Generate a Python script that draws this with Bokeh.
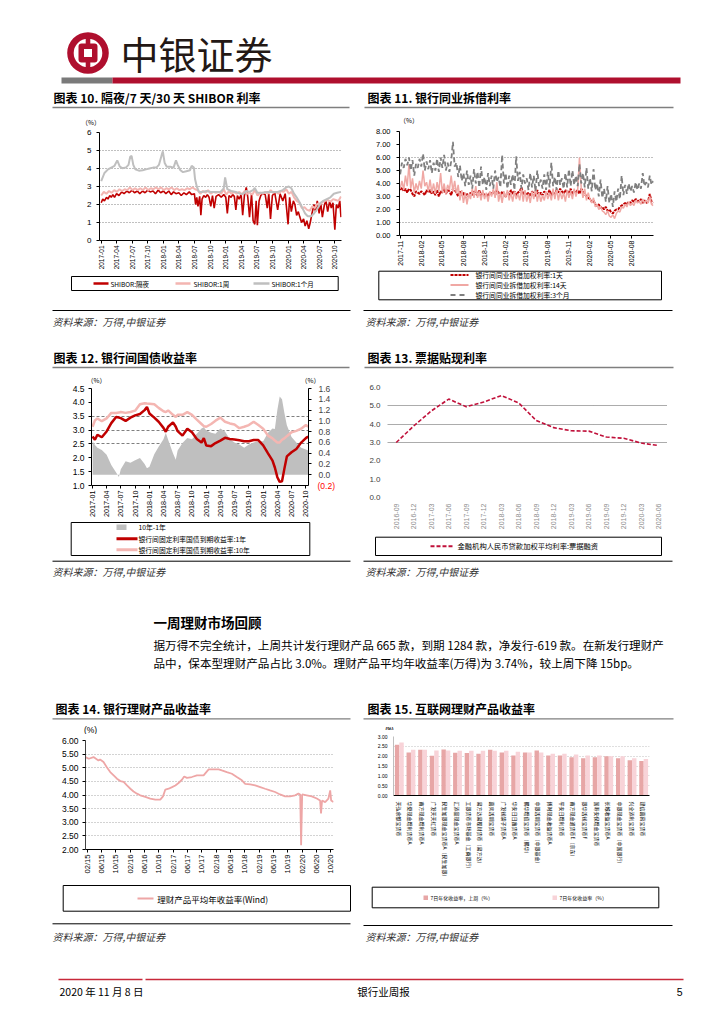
import pandas as pd
from math import pi
from bokeh.plotting import figure
from bokeh.layouts import column, row
from bokeh.models import Range1d, FixedTicker, NumeralTickFormatter, FactorRange, LinearAxis, ColumnDataSource, Spacer
from bokeh.transform import dodge
from bokeh.core.properties import value
from bokeh.embed import file_html
from bokeh.resources import INLINE

CJK = "Noto Sans CJK SC"
LAT = "Liberation Sans"

# ====================== DATA ======================
# Chart 10: SHIBOR overnight / 1W / 1M
c10_ticks = ["2017-01", "2017-04", "2017-07", "2017-10", "2018-01", "2018-04", "2018-07", "2018-10",
             "2019-01", "2019-04", "2019-07", "2019-10", "2020-01", "2020-04", "2020-07", "2020-10"]
c10_yticks = [0, 1, 2, 3, 4, 5, 6]
c10_on = [("2017-01-01", 2.10), ("2017-01-10", 2.30), ("2017-01-20", 2.20), ("2017-02-01", 2.40), ("2017-02-10", 2.30),
          ("2017-02-20", 2.50), ("2017-03-01", 2.40), ("2017-03-10", 2.55), ("2017-03-20", 2.40), ("2017-04-01", 2.60),
          ("2017-04-15", 2.50), ("2017-05-01", 2.70), ("2017-05-15", 2.60), ("2017-06-01", 2.75), ("2017-06-15", 2.65),
          ("2017-07-01", 2.80), ("2017-07-15", 2.65), ("2017-08-01", 2.75), ("2017-08-15", 2.60), ("2017-09-01", 2.75),
          ("2017-09-15", 2.65), ("2017-10-01", 2.80), ("2017-10-15", 2.70), ("2017-11-01", 2.75), ("2017-11-15", 2.60),
          ("2017-12-01", 2.80), ("2017-12-15", 2.65), ("2018-01-01", 2.75), ("2018-01-15", 2.60), ("2018-02-01", 2.75),
          ("2018-02-15", 2.55), ("2018-03-01", 2.70), ("2018-03-15", 2.60), ("2018-04-01", 2.65), ("2018-04-15", 2.50),
          ("2018-05-01", 2.65), ("2018-05-15", 2.55), ("2018-06-01", 2.70), ("2018-06-15", 2.55), ("2018-07-01", 2.60),
          ("2018-07-08", 2.00), ("2018-07-15", 2.40), ("2018-07-22", 1.90), ("2018-08-01", 2.45), ("2018-08-08", 1.40),
          ("2018-08-15", 2.30), ("2018-08-25", 2.50), ("2018-09-05", 2.40), ("2018-09-15", 2.55), ("2018-09-25", 2.40),
          ("2018-10-05", 1.90), ("2018-10-15", 2.50), ("2018-10-25", 1.80), ("2018-11-05", 2.45), ("2018-11-20", 2.55),
          ("2018-12-05", 2.40), ("2018-12-20", 2.55), ("2019-01-01", 2.40), ("2019-01-10", 1.50), ("2019-01-20", 2.50),
          ("2019-02-01", 2.40), ("2019-02-10", 2.55), ("2019-02-20", 2.45), ("2019-03-01", 1.70), ("2019-03-10", 2.50),
          ("2019-03-20", 2.30), ("2019-04-01", 2.55), ("2019-04-10", 1.40), ("2019-04-20", 2.50), ("2019-05-01", 2.95),
          ("2019-05-10", 2.40), ("2019-05-20", 1.30), ("2019-06-01", 2.60), ("2019-06-10", 1.10), ("2019-06-20", 0.90),
          ("2019-06-28", 2.20), ("2019-07-05", 0.85), ("2019-07-15", 2.20), ("2019-07-25", 2.50), ("2019-08-05", 2.60),
          ("2019-08-20", 2.55), ("2019-09-01", 1.80), ("2019-09-10", 2.60), ("2019-09-20", 1.20), ("2019-10-01", 2.50),
          ("2019-10-15", 2.65), ("2019-11-01", 1.70), ("2019-11-15", 2.60), ("2019-12-01", 2.20), ("2019-12-15", 2.60),
          ("2020-01-01", 0.90), ("2020-01-10", 2.40), ("2020-01-20", 1.60), ("2020-02-01", 2.20), ("2020-02-10", 2.00),
          ("2020-02-20", 1.40), ("2020-03-01", 1.60), ("2020-03-10", 1.30), ("2020-03-20", 1.00), ("2020-04-01", 1.20),
          ("2020-04-10", 0.80), ("2020-04-20", 1.10), ("2020-05-01", 0.65), ("2020-05-10", 1.00), ("2020-05-20", 1.50),
          ("2020-06-01", 2.00), ("2020-06-10", 1.60), ("2020-06-20", 2.20), ("2020-07-01", 1.50), ("2020-07-10", 2.10),
          ("2020-07-20", 1.30), ("2020-08-01", 2.00), ("2020-08-10", 2.20), ("2020-08-20", 1.60), ("2020-09-01", 2.20),
          ("2020-09-10", 1.80), ("2020-09-20", 2.10), ("2020-10-01", 0.60), ("2020-10-10", 2.00), ("2020-10-20", 1.80),
          ("2020-10-30", 2.20), ("2020-11-06", 1.30)]
c10_1w = [2.50, 2.70, 2.60, 2.75, 2.65, 2.80, 2.70, 2.85, 2.75, 2.85, 2.80, 2.95, 2.80, 2.90, 2.80, 2.90, 2.80, 2.95, 2.80, 2.90, 2.85, 2.95, 2.85, 2.95,
          2.80, 2.90, 2.85, 2.95, 2.80, 2.90, 2.80, 2.85, 2.80, 2.90, 2.85, 2.95, 2.85, 2.80, 2.60, 2.75, 2.65, 2.80, 2.60, 2.70, 2.65, 2.70, 2.60, 2.85,
          2.55, 2.75, 2.60, 2.70, 2.60, 2.70, 2.55, 2.75, 2.60, 2.65, 2.55, 2.80, 2.50, 2.65, 2.60, 2.70, 2.60, 2.80, 2.65, 2.70, 2.60, 2.75, 2.70, 2.85,
          2.60, 2.70, 2.40, 2.20, 2.10, 1.80, 1.85, 1.70, 1.65, 1.90, 1.80, 2.05, 2.00, 2.15, 2.20, 2.25, 2.15, 2.30, 2.25, 2.20, 2.45]
c10_1w_span = ("2017-01-01", "2020-11-06")
c10_1m = [("2017-01-01", 3.30), ("2017-01-20", 3.75), ("2017-02-10", 3.95), ("2017-03-01", 4.05), ("2017-03-20", 4.15),
          ("2017-04-05", 4.45), ("2017-04-20", 4.10), ("2017-05-05", 4.02), ("2017-05-25", 4.05), ("2017-06-10", 4.20),
          ("2017-06-20", 4.65), ("2017-06-28", 4.70), ("2017-07-08", 4.20), ("2017-07-20", 3.95), ("2017-08-10", 3.88),
          ("2017-09-01", 3.90), ("2017-09-20", 3.95), ("2017-10-10", 4.00), ("2017-11-01", 4.05), ("2017-11-20", 4.05),
          ("2017-12-05", 4.20), ("2017-12-20", 4.70), ("2017-12-28", 4.95), ("2018-01-08", 4.30), ("2018-01-20", 4.10),
          ("2018-02-10", 4.10), ("2018-03-01", 4.05), ("2018-03-15", 4.45), ("2018-03-25", 4.20), ("2018-04-10", 3.90),
          ("2018-04-25", 3.80), ("2018-05-15", 3.85), ("2018-06-05", 3.90), ("2018-06-15", 4.15), ("2018-06-28", 4.05),
          ("2018-07-05", 3.40), ("2018-07-15", 3.00), ("2018-07-28", 2.70), ("2018-08-15", 2.70), ("2018-09-10", 2.75),
          ("2018-10-05", 2.70), ("2018-11-01", 2.70), ("2018-12-01", 2.70), ("2018-12-20", 2.90), ("2018-12-28", 3.50),
          ("2019-01-10", 2.85), ("2019-02-01", 2.75), ("2019-03-01", 2.70), ("2019-03-25", 2.60), ("2019-04-15", 2.60),
          ("2019-05-01", 2.75), ("2019-05-20", 2.70), ("2019-06-10", 2.80), ("2019-06-20", 2.92), ("2019-07-05", 2.65),
          ("2019-08-01", 2.65), ("2019-09-01", 2.70), ("2019-10-01", 2.70), ("2019-11-01", 2.70), ("2019-12-01", 2.80),
          ("2019-12-20", 2.95), ("2020-01-05", 3.00), ("2020-01-20", 2.90), ("2020-02-05", 2.60), ("2020-02-20", 2.40),
          ("2020-03-10", 2.10), ("2020-03-25", 1.80), ("2020-04-10", 1.50), ("2020-04-25", 1.35), ("2020-05-15", 1.35),
          ("2020-06-01", 1.50), ("2020-06-20", 1.75), ("2020-07-10", 2.10), ("2020-07-25", 2.20), ("2020-08-15", 2.30),
          ("2020-09-05", 2.40), ("2020-09-25", 2.60), ("2020-10-15", 2.65), ("2020-11-06", 2.70)]
c10_names = ["SHIBOR:隔夜", "SHIBOR:1周", "SHIBOR:1个月"]

# Chart 11: interbank lending weighted rates (weekly readings)
c11_ticks = ["2017-11", "2018-02", "2018-05", "2018-08", "2018-11", "2019-02", "2019-05", "2019-08",
             "2019-11", "2020-02", "2020-05", "2020-08"]
c11_yticks = [0, 1, 2, 3, 4, 5, 6, 7, 8]
c11_span = ("2017-11-01", "2020-11-04")
c11_1d = [3.5, 3.7, 3.4, 3.6, 3.3, 3.6, 3.5, 3.2,
          3.0, 3.4, 3.3, 3.2, 3.4, 3.3, 3.1, 3.5, 3.3, 3.5, 3.2, 3.4, 3.1, 3.5, 3.0, 3.4, 3.3, 3.6, 3.2, 3.5, 3.4, 3.1, 3.6, 3.5,
          3.3, 3.0, 3.4, 3.1, 3.3, 2.9, 3.2, 3.0, 3.3, 3.1, 3.4, 3.2, 3.1, 3.5, 3.0, 3.3, 3.1, 3.2, 3.0, 3.3, 3.2, 3.4, 3.1, 3.5,
          3.3, 3.0, 3.4, 3.2, 3.0, 3.3, 3.1, 3.5, 3.2, 3.4, 3.1, 3.3, 3.4, 3.7, 3.2, 3.3, 3.1, 3.3, 3.0, 3.4, 3.2, 3.0, 3.5, 3.1,
          3.3, 3.1, 3.4, 3.2, 3.2, 3.5, 3.1, 3.3, 3.2, 3.5, 3.3, 3.6, 3.4, 3.2, 3.5, 3.3, 3.3, 3.6, 3.2, 3.4, 3.3, 3.5, 3.2, 3.6,
          3.4, 3.2, 3.0, 2.9, 2.8, 2.6, 2.7, 2.4, 2.3, 2.4, 2.1, 2.2, 2.0, 2.2, 1.9, 2.0, 1.8, 1.7, 1.9, 2.0, 2.0, 2.2, 2.3, 2.4,
          2.5, 2.4, 2.6, 2.5, 2.7, 2.6, 2.8, 2.7, 2.6, 2.8, 2.5, 2.7, 2.5, 2.6, 3.2, 2.6, 2.5]
c11_14d = [3.6, 4.2, 3.5, 4.6, 3.8, 5.5, 3.6, 4.4,
           3.3, 4.0, 3.5, 4.2, 3.6, 5.0, 3.8, 4.1, 3.4, 4.3, 3.3, 4.0, 3.2, 4.1, 3.4, 4.8, 3.3, 4.0, 3.2, 3.9, 3.5, 4.6, 3.4, 4.2,
           3.2, 3.9, 2.7, 3.5, 2.5, 3.3, 2.4, 3.2, 2.8, 3.6, 2.9, 3.8, 2.9, 3.4, 2.7, 3.5, 2.8, 3.3, 2.6, 3.4, 3.0, 3.6, 2.9, 4.1,
           2.6, 3.3, 2.5, 3.4, 2.9, 3.5, 2.7, 3.3, 2.6, 3.4, 2.8, 3.2, 2.7, 3.6, 2.6, 3.5, 2.6, 3.2, 2.5, 3.4, 2.8, 3.7, 2.6, 3.3,
           2.6, 3.1, 2.7, 3.4, 2.8, 3.3, 2.7, 3.6, 2.8, 3.6, 2.7, 3.4, 2.8, 3.3, 2.6, 3.5, 2.9, 3.4, 2.8, 3.6, 3.0, 3.5, 6.0, 3.7,
           2.9, 3.6, 2.7, 3.3, 2.8, 2.5, 2.9, 2.2, 2.4, 2.0, 2.2, 1.9, 1.8, 1.6, 1.9, 1.5, 1.4, 1.6, 1.3, 1.7, 1.9, 1.8, 2.2, 2.1,
           2.4, 2.2, 2.6, 2.3, 2.5, 2.3, 2.7, 2.5, 2.6, 2.4, 2.8, 2.5, 2.7, 2.5, 3.0, 2.4, 2.3]
c11_3m = [4.7, 5.6, 5.2, 5.9, 5.4, 6.0, 5.0, 5.8,
          4.6, 5.5, 5.2, 5.9, 5.3, 6.3, 5.0, 5.7, 5.1, 5.8, 4.8, 5.6, 5.0, 5.9, 4.9, 6.0, 5.2, 6.2, 5.0, 5.6, 4.9, 5.7, 7.2, 5.3,
          5.6, 4.5, 5.4, 4.2, 4.8, 3.8, 5.0, 3.9, 4.6, 3.6, 5.1, 4.0, 4.9, 3.7, 5.3, 3.9, 4.5, 3.5, 4.8, 3.8, 4.6, 3.6, 5.0, 4.1,
          4.5, 3.7, 6.2, 4.0, 4.8, 3.6, 4.6, 3.9, 4.7, 3.5, 6.1, 4.2, 4.9, 3.6, 4.7, 4.0, 4.4, 3.5, 4.8, 3.7, 4.6, 3.4, 5.0, 3.8,
          4.3, 3.6, 4.7, 3.5, 4.9, 3.7, 5.6, 3.8, 4.5, 3.5, 5.0, 3.9, 4.4, 3.6, 4.8, 3.7, 5.1, 3.8, 5.0, 3.9, 4.6, 3.8, 5.5, 4.0,
          4.8, 3.7, 5.2, 3.6, 4.4, 3.4, 5.1, 3.5, 4.0, 3.0, 4.3, 2.9, 3.6, 2.6, 3.8, 2.5, 3.2, 2.2, 3.4, 2.6, 3.6, 2.8, 4.6, 3.1,
          3.9, 3.2, 4.0, 3.4, 3.8, 3.3, 4.1, 3.5, 4.0, 3.6, 4.8, 3.8, 4.1, 3.7, 4.6, 3.9, 4.2]
c11_names = ["银行间同业拆借加权利率:1天", "银行间同业拆借加权利率:14天", "银行间同业拆借加权利率:3个月"]

# Chart 12: treasury yields (left) and 10Y-1Y spread (right)
c12_ticks = c10_ticks
c12_yticks = [1.0, 1.5, 2.0, 2.5, 3.0, 3.5, 4.0, 4.5]
c12_rticks = [0.0, 0.2, 0.4, 0.6, 0.8, 1.0, 1.2, 1.4, 1.6]
c12_rneg = {-0.2: "(0.2)"}
c12_dates = ["2017-01-01", "2017-01-16", "2017-02-01", "2017-03-01", "2017-04-01", "2017-05-01", "2017-06-01", "2017-06-19",
             "2017-07-01", "2017-08-01", "2017-09-01", "2017-10-01", "2017-11-01", "2017-12-01", "2017-12-16",
             "2018-01-01", "2018-02-01", "2018-03-01", "2018-04-01", "2018-04-16", "2018-05-01", "2018-06-01", "2018-06-19",
             "2018-07-01", "2018-08-01", "2018-09-01", "2018-10-01", "2018-11-01", "2018-12-01", "2018-12-16",
             "2019-01-01", "2019-02-01", "2019-03-01", "2019-04-01", "2019-05-01", "2019-06-01", "2019-07-01", "2019-08-01",
             "2019-09-01", "2019-10-01", "2019-11-01", "2019-12-01",
             "2020-01-01", "2020-02-01", "2020-03-01", "2020-03-16", "2020-04-01", "2020-04-16", "2020-05-01", "2020-05-16",
             "2020-06-01", "2020-07-01", "2020-08-01", "2020-09-01", "2020-10-01", "2020-10-16"]
c12_1y = [2.77, 2.65, 2.83, 2.74, 2.95, 3.25, 3.47, 3.45, 3.43, 3.33, 3.45, 3.53, 3.58, 3.72, 3.83,
          3.60, 3.45, 3.30, 3.08, 2.94, 3.12, 3.28, 3.12, 2.96, 2.80, 3.05, 2.92, 2.68, 2.55, 2.71,
          2.44, 2.42, 2.53, 2.62, 2.72, 2.68, 2.66, 2.63, 2.60, 2.60, 2.64, 2.64,
          2.45, 2.16, 1.90, 1.65, 1.30, 1.13, 1.15, 1.60, 2.05, 2.20, 2.32, 2.55, 2.71, 2.77]
c12_10y = [3.12, 3.35, 3.42, 3.32, 3.42, 3.62, 3.62, 3.63, 3.65, 3.62, 3.65, 3.70, 3.93, 3.97, 3.96,
           3.95, 3.93, 3.80, 3.68, 3.65, 3.71, 3.55, 3.47, 3.55, 3.55, 3.65, 3.55, 3.38, 3.22, 3.14,
           3.12, 3.22, 3.34, 3.45, 3.30, 3.24, 3.20, 3.07, 3.12, 3.18, 3.30, 3.18,
           3.05, 2.80, 2.70, 2.62, 2.55, 2.55, 2.65, 2.70, 2.78, 2.92, 2.97, 3.05, 3.18, 3.12]
c12_spread = [0.62, 0.55, 0.50, 0.46, 0.37, 0.18, 0.04, -0.04, 0.10, 0.25, 0.22, 0.27, 0.31, 0.20, 0.12,
              0.15, 0.38, 0.52, 0.66, 0.78, 0.65, 0.40, 0.28, 0.45, 0.59, 0.68, 0.66, 0.76, 0.86, 0.88,
              0.82, 0.78, 0.76, 0.86, 0.80, 0.66, 0.60, 0.56, 0.50, 0.56, 0.60, 0.62,
              0.62, 0.78, 0.86, 0.85, 1.20, 1.45, 1.40, 1.15, 0.92, 0.70, 0.60, 0.50, 0.47, 0.45]
c12_names = ["10年-1年", "银行间固定利率国债到期收益率:1年", "银行间固定利率国债到期收益率:10年"]

# Chart 13: bill discount rate
c13_cats = ["2016-09", "2016-12", "2017-03", "2017-06", "2017-09", "2017-12", "2018-03", "2018-06",
            "2018-09", "2018-12", "2019-03", "2019-06", "2019-09", "2019-12", "2020-03", "2020-06"]
c13_vals = [3.00, 3.90, 4.72, 5.37, 4.95, 5.21, 5.56, 5.16, 4.20, 3.81, 3.64, 3.62, 3.30, 3.23, 2.97, 2.83]
c13_yticks = [0, 1, 2, 3, 4, 5, 6]
c13_name = "金融机构人民币贷款加权平均利率:票据融资"

# Chart 14: bank WMP average yield
c14_ticks = ["02/15", "06/15", "10/15", "02/16", "06/16", "10/16", "02/17", "06/17", "10/17",
             "02/18", "06/18", "10/18", "02/19", "06/19", "10/19", "02/20", "06/20", "10/20"]
c14_yticks = [2.0, 2.5, 3.0, 3.5, 4.0, 4.5, 5.0, 5.5, 6.0]
c14_dates = ["2015-01-18", "2015-02-15", "2015-03-27", "2015-05-08", "2015-05-22", "2015-06-20", "2015-07-18", "2015-08-16",
             "2015-09-14", "2015-10-12", "2015-11-10", "2015-12-08", "2016-01-05", "2016-02-03", "2016-03-01", "2016-03-30",
             "2016-04-27", "2016-06-09", "2016-07-21", "2016-09-02", "2016-10-14", "2016-11-06", "2016-11-26", "2016-12-24",
             "2017-01-22", "2017-02-19", "2017-03-18", "2017-04-16", "2017-05-05", "2017-05-28", "2017-07-09", "2017-08-21",
             "2017-10-17", "2017-11-09", "2017-11-29", "2018-01-10", "2018-02-22", "2018-03-21", "2018-05-02", "2018-06-14",
             "2018-07-26", "2018-09-07", "2018-10-05", "2018-11-17", "2018-12-29", "2019-02-10", "2019-03-23", "2019-05-04",
             "2019-06-16", "2019-07-28", "2019-09-09", "2019-10-21", "2019-12-03", "2019-12-31", "2020-01-15", "2020-01-23",
             "2020-02-01", "2020-03-11", "2020-04-23", "2020-06-04", "2020-07-02", "2020-07-10", "2020-07-19", "2020-08-14",
             "2020-09-11", "2020-09-26", "2020-10-04", "2020-10-24"]
c14_vals = [5.39, 5.33, 5.39, 5.27, 5.30, 5.21, 5.02, 4.84, 4.72, 4.60, 4.51, 4.48,
            4.35, 4.23, 4.13, 4.05, 3.99, 3.93, 3.87, 3.83, 3.83, 3.95, 4.20, 4.23,
            4.29, 4.35, 4.44, 4.56, 4.68, 4.63, 4.66, 4.72, 4.72, 4.84, 4.94,
            4.94, 4.94, 4.90, 4.84, 4.78, 4.66, 4.54, 4.41, 4.39, 4.35,
            4.29, 4.23, 4.17, 4.11, 4.02, 3.95, 3.95, 3.99, 4.05,
            4.02, 2.16, 4.02, 3.99, 3.95, 3.87, 3.80, 3.32, 3.80, 3.74, 3.87, 4.17, 3.80, 3.74]
c14_name = "理财产品平均年收益率(Wind)"

# Chart 15: internet money-fund 7-day yields
c15_funds = ["天弘余额宝货币", "华夏现金增利货币A", "南方现金增利货币A", "广发天天红货币", "民生加银现金宝货币A（民生加银）",
             "汇添富现金宝货币A", "工银货币市场基金（工商银行）", "易方达易理财货币（易方达）", "嘉实活期宝货币",
             "广发钱袋子货币A", "华安日日鑫货币A", "鹏华增值宝货币（鹏华）", "中银活期宝货币（中银基金）",
             "博时现金收益货币A", "平安日增利货币", "南方现金通货币E（京东）", "银华活钱宝货币F", "国寿安保增金宝货币",
             "长城收益宝货币A", "中银现金宝货币（中国银行）", "兴全添利宝货币", "建信嘉薪宝货币"]
c15_last = [2.58, 2.19, 2.33, 2.02, 2.34, 2.18, 2.16, 2.12, 2.33, 2.19, 2.04, 2.19, 2.29, 2.04, 2.04, 1.94, 1.89, 1.94, 2.00, 1.89, 1.79, 1.75]
c15_now = [2.70, 2.33, 2.33, 2.29, 2.29, 2.28, 2.28, 2.28, 2.28, 2.28, 2.23, 2.19, 2.19, 2.12, 2.12, 2.09, 2.04, 2.04, 2.00, 2.00, 1.89, 1.85]
c15_yticks = [0.0, 0.5, 1.0, 1.5, 2.0, 2.5, 3.0]
c15_names = ["7日年化收益率，上周（%）", "7日年化收益率（%）"]

# Page texts
titles = ["图表 10. 隔夜/7 天/30 天 SHIBOR 利率", "图表 11. 银行同业拆借利率", "图表 12. 银行间国债收益率",
          "图表 13. 票据贴现利率", "图表 14. 银行理财产品收益率", "图表 15. 互联网理财产品收益率"]
source = "资料来源：万得,中银证券"
para_head = "一周理财市场回顾"
para_lines = ["据万得不完全统计，上周共计发行理财产品 665 款，到期 1284 款，净发行-619 款。在新发行理财产",
              "品中，保本型理财产品占比 3.0%。理财产品平均年收益率(万得)为 3.74%，较上周下降 15bp。"]
footer = ["2020 年 11 月 8 日", "银行业周报", "5"]

# ====================== STYLE ======================
RED = "#C00000"
PINK10 = "#F3B5B1"
GREY10 = "#BFBFBF"
PINK11 = "#F0A8A4"
GREY11 = "#7F7F7F"
RED13 = "#C0103A"
PINK14 = "#EEA6A6"
BAR_DARK = "#E7A6A6"
BAR_LIGHT = "#F8D3D8"
BRAND = "#AF0F2E"


def ms(s):
    return int(pd.Timestamp(s).value // 10**6)


def dates_of(pairs):
    return pd.to_datetime([d for d, _ in pairs])


def vals_of(pairs):
    return [v for _, v in pairs]


def decor(x0, y0, w, h):
    p = figure(width=w, height=h, x_range=Range1d(x0, x0 + w), y_range=Range1d(y0 + h, y0),
               min_border=0, toolbar_location=None, output_backend="svg", title=None,
               x_axis_location=None, y_axis_location=None)
    p.frame_align = False
    p.grid.visible = False
    p.outline_line_color = None
    p.background_fill_color = "white"
    p.border_fill_color = "white"
    return p


def txt(p, x, y, s, size, color="#000000", font=CJK, style="normal", align="left"):
    p.text(x=[x], y=[y], text=[s], text_font=value(font), text_font_size=f"{size}px",
           text_color=color, text_font_style=style, text_align=align, text_baseline="middle")


def hline(p, x0, x1, y, color="#000000", width=1.0, dash="solid"):
    p.segment(x0=[x0], y0=[y], x1=[x1], y1=[y], line_color=color, line_width=width, line_dash=dash)


def box(p, l, r, t, b, line="#000000", fill=None, width=1.0):
    p.quad(left=[l], right=[r], top=[t], bottom=[b], fill_color=fill, line_color=line, line_width=width)


def chart(w, h, bl, br, bt, bb, xr, yr, xtype="auto"):
    p = figure(width=w, height=h, x_range=xr, y_range=yr, x_axis_type=xtype, title=None,
               toolbar_location=None, output_backend="svg",
               min_border_left=bl, min_border_right=br, min_border_top=bt, min_border_bottom=bb)
    p.frame_align = False
    p.outline_line_color = None
    p.background_fill_color = "white"
    p.border_fill_color = "white"
    p.xgrid.visible = False
    for ax in p.axis:
        ax.minor_tick_line_color = None
        ax.axis_line_color = "#000000"
        ax.major_tick_line_color = "#000000"
        ax.major_tick_in = 0
        ax.major_tick_out = 3
        ax.major_label_text_font = LAT
        ax.major_label_text_color = "#000000"
    return p


def date_axis(p, labels, fmt, size, color="#000000"):
    ticks = [ms(pd.to_datetime(s, format=fmt)) for s in labels]
    ax = p.below[0]
    ax.ticker = FixedTicker(ticks=ticks)
    ax.major_label_overrides = dict(zip(ticks, labels))
    ax.major_label_orientation = pi / 2
    ax.major_label_text_font_size = f"{size}px"
    ax.major_label_text_color = color
    ax.major_label_standoff = 2


def y_axis(p, ticks, fmt, size, standoff):
    ax = p.left[0]
    ax.ticker = FixedTicker(ticks=ticks)
    if fmt:
        ax.formatter = NumeralTickFormatter(format=fmt)
    ax.major_label_text_font_size = f"{size}px"
    ax.major_label_standoff = standoff


# ====================== CHART 10 ======================
p10 = chart(352, 146, 91, 19, 6, 30, Range1d(ms("2016-12-22"), ms("2020-11-09")), Range1d(0, 6), "datetime")
date_axis(p10, c10_ticks, "%Y-%m", 6.5)
y_axis(p10, c10_yticks, None, 8, 5)
p10.ygrid.grid_line_color = "#808080"
p10.ygrid.grid_line_dash = "1 2"
p10.line(dates_of(c10_on), vals_of(c10_on), line_color=RED, line_width=1.6)
p10.line(pd.date_range(c10_1w_span[0], c10_1w_span[1], periods=len(c10_1w)), c10_1w, line_color=PINK10, line_width=2)
p10.line(dates_of(c10_1m), vals_of(c10_1m), line_color=GREY10, line_width=2)

# ====================== CHART 11 ======================
p11 = chart(356, 143, 39, 63, 5, 32, Range1d(ms("2017-10-29"), ms("2020-11-05")), Range1d(0, 8), "datetime")
date_axis(p11, c11_ticks, "%Y-%m", 7)
y_axis(p11, c11_yticks, "0.00", 7.5, 6)
p11.ygrid.ticker = FixedTicker(ticks=[1, 6])
p11.ygrid.grid_line_color = "#808080"
p11.ygrid.grid_line_dash = "1 2"
p11.line(pd.date_range(c11_span[0], c11_span[1], periods=len(c11_1d)), c11_1d, line_color=RED, line_width=2, line_dash="3 1")
p11.line(pd.date_range(c11_span[0], c11_span[1], periods=len(c11_14d)), c11_14d, line_color=PINK11, line_width=1.5)
p11.line(pd.date_range(c11_span[0], c11_span[1], periods=len(c11_3m)), c11_3m, line_color=GREY11, line_width=1.8, line_dash="5 3")

# ====================== CHART 12 ======================
p12 = chart(352, 135, 83, 52, 4, 32, Range1d(ms("2016-12-25"), ms("2020-10-18")), Range1d(1.0, 4.5), "datetime")
date_axis(p12, c12_ticks, "%Y-%m", 7.2)
y_axis(p12, c12_yticks, "0.0", 8.5, 4)
p12.extra_y_ranges = {"r": Range1d(-0.2, 1.6)}
ax_r = LinearAxis(y_range_name="r", ticker=FixedTicker(ticks=c12_rticks), formatter=NumeralTickFormatter(format="0.0"))
ax_r.minor_tick_line_color = None
ax_r.major_tick_in = 0
ax_r.major_tick_out = 3
ax_r.major_label_text_font = LAT
ax_r.major_label_text_font_size = "8.5px"
ax_r.major_label_standoff = 7
p12.add_layout(ax_r, "right")
# red negative label of the right axis, pulled back over the first right axis
ax_neg = LinearAxis(y_range_name="r", ticker=FixedTicker(ticks=list(c12_rneg.keys())),
                    major_label_overrides=c12_rneg)
ax_neg.axis_line_color = None
ax_neg.major_tick_line_color = None
ax_neg.minor_tick_line_color = None
ax_neg.major_tick_in = 0
ax_neg.major_tick_out = 0
ax_neg.major_label_text_font = LAT
ax_neg.major_label_text_font_size = "8.5px"
ax_neg.major_label_text_color = "#FF0000"
ax_neg.major_label_standoff = -16
p12.add_layout(ax_neg, "right")
p12.ygrid.ticker = FixedTicker(ticks=[2.5, 3.0, 3.5])
p12.ygrid.grid_line_color = "#808080"
p12.ygrid.grid_line_dash = "3 2"
d12 = pd.to_datetime(c12_dates)
p12.varea(x=d12, y1=0, y2=c12_spread, y_range_name="r", fill_color="#BFBFBF")
p12.line(d12, c12_1y, line_color=RED, line_width=2.5)
p12.line(d12, c12_10y, line_color="#F4B6B2", line_width=2.5)

# ====================== CHART 13 ======================
p13 = chart(356, 148, 27, 49, 3, 30, FactorRange(factors=c13_cats), Range1d(0, 6))
y_axis(p13, c13_yticks, "0.0", 8, 4)
p13.yaxis.axis_line_color = None
p13.yaxis.major_tick_line_color = None
p13.yaxis.major_label_text_color = "#404040"
p13.xaxis.axis_line_color = None
p13.xaxis.major_tick_line_color = None
p13.xaxis.major_label_orientation = pi / 2
p13.xaxis.major_label_text_font_size = "7px"
p13.xaxis.major_label_text_color = "#8C8C8C"
p13.xaxis.major_label_standoff = 3
p13.ygrid.ticker = FixedTicker(ticks=[3, 4, 5])
p13.ygrid.grid_line_color = "#595959"
p13.ygrid.grid_line_dash = "1 1"
p13.line(c13_cats, c13_vals, line_color=RED13, line_width=1.6, line_dash="4 2")

# ====================== CHART 14 ======================
p14 = chart(352, 143, 77, 27, 6, 28, Range1d(ms("2015-01-18"), ms("2020-10-24")), Range1d(2, 6), "datetime")
date_axis(p14, c14_ticks, "%m/%y", 7.6)
y_axis(p14, c14_yticks, "0.00", 8.5, 4)
p14.yaxis.axis_line_color = "#404040"
p14.ygrid.grid_line_color = "#A6A6A6"
p14.ygrid.grid_line_dash = "1 2"
p14.line(pd.to_datetime(c14_dates), c14_vals, line_color=PINK14, line_width=1.8)

# ====================== CHART 15 ======================
p15 = chart(356, 152, 33, 67, 6, 87, FactorRange(factors=c15_funds), Range1d(0, 3))
y_axis(p15, c15_yticks, "0.00", 5, 3)
p15.yaxis.axis_line_color = "#BFBFBF"
p15.yaxis.major_tick_line_color = None
p15.xaxis.major_tick_line_color = None
p15.xaxis.major_label_orientation = -pi / 2
p15.xaxis.major_label_text_font = CJK
p15.xaxis.major_label_text_font_size = "5px"
p15.xaxis.major_label_standoff = 3
p15.ygrid.grid_line_color = "#BFBFBF"
p15.ygrid.grid_line_dash = "1 2"
src15 = ColumnDataSource(dict(fund=c15_funds, last=c15_last, now=c15_now))
p15.vbar(x=dodge("fund", -0.19, range=p15.x_range), top="last", width=0.38, source=src15, fill_color=BAR_DARK, line_color=None)
p15.vbar(x=dodge("fund", 0.19, range=p15.x_range), top="now", width=0.38, source=src15, fill_color=BAR_LIGHT, line_color=None)

# ====================== DECOR STRIPS ======================
H = decor(8, 8, 708, 118)
H.annulus(x=[87.5], y=[52.5], inner_radius=14.3, outer_radius=20.8, fill_color=BRAND, line_color=None)
H.quad(left=[85.2], right=[89.8], top=[33], bottom=[72], fill_color=BRAND, line_color=None)
H.quad(left=[78], right=[97], top=[43], bottom=[62], fill_color=BRAND, line_color=None, border_radius=3)
H.quad(left=[83.5], right=[91.5], top=[48.5], bottom=[56.5], fill_color="white", line_color=None)
txt(H, 120, 52, "中银证券", 38, color="#231815")
H.quad(left=[61], right=[112], top=[77], bottom=[83], fill_color="#7A7A7A", line_color=None)
H.quad(left=[112], right=[680], top=[77], bottom=[83], fill_color=BRAND, line_color=None)
txt(H, 53, 97, titles[0], 12, style="bold")
txt(H, 367, 97, titles[1], 12, style="bold")
hline(H, 52, 349, 107, "#7F7F7F", 1.3)
hline(H, 364, 673, 107, "#7F7F7F", 1.3)
txt(H, 90.5, 121, "（%）", 6.5, align="center")
txt(H, 408.5, 119, "（%）", 6.5, align="center")

Lb = decor(8, 272, 352, 112)
box(Lb, 71, 337.7, 276, 290)
hline(Lb, 93, 108, 283, RED, 2.5)
txt(Lb, 110, 283, c10_names[0], 6.5)
hline(Lb, 175, 190, 283, PINK10, 2.5)
txt(Lb, 193, 283, c10_names[1], 6.5)
hline(Lb, 253, 269, 283, GREY10, 2.5)
txt(Lb, 271, 283, c10_names[2], 6.5)
hline(Lb, 52, 350, 310, "#000000", 1)
txt(Lb, 52, 320.7, source, 10, color="#333333", style="italic")
txt(Lb, 53, 357, titles[2], 12, style="bold")
hline(Lb, 52, 349, 367, "#7F7F7F", 1.3)
txt(Lb, 96, 379.8, "（%）", 6.5, align="center")
txt(Lb, 310, 379, "（%）", 6.5, align="center")

Rb = decor(360, 269, 356, 115)
box(Rb, 378.3, 661, 270.7, 299.3)
hline(Rb, 450, 468, 274.5, RED, 2.2, "3 1")
txt(Rb, 475, 274.5, c11_names[0], 6.8)
hline(Rb, 450, 468, 284.5, PINK11, 2)
txt(Rb, 475, 284.5, c11_names[1], 6.8)
hline(Rb, 450, 468, 294.5, GREY11, 2, "5 4")
txt(Rb, 475, 294.5, c11_names[2], 6.8)
hline(Rb, 363, 672, 310, "#000000", 1)
txt(Rb, 365, 320.7, source, 10, color="#333333", style="italic")
txt(Rb, 367, 357, titles[3], 12, style="bold")
hline(Rb, 364, 673, 367, "#7F7F7F", 1.3)

Lc = decor(8, 519, 352, 66)
box(Lc, 70.7, 309.3, 522, 555)
Lc.quad(left=[116], right=[126], top=[524], bottom=[529.5], fill_color="#BFBFBF", line_color=None)
txt(Lc, 138, 526.7, c12_names[0], 6.8)
hline(Lc, 116, 137, 538.3, RED, 3)
txt(Lc, 138, 538.3, c12_names[1], 6.8)
hline(Lc, 116, 137, 549.3, "#F4B6B2", 3)
txt(Lc, 138, 549.3, c12_names[2], 6.8)
hline(Lc, 52, 350, 560.7, "#000000", 1)
txt(Lc, 52, 571, source, 10, color="#333333", style="italic")

Rc = decor(360, 532, 356, 53)
box(Rc, 375, 661, 536.7, 555)
hline(Rc, 430, 453, 545.7, RED13, 2, "4 2")
txt(Rc, 457, 545.7, c13_name, 7.3)
hline(Rc, 363, 672, 560.7, "#000000", 1)
txt(Rc, 365, 571, source, 10, color="#333333", style="italic")

P = decor(8, 585, 708, 136)
txt(P, 153, 621, para_head, 13.5, style="bold")
txt(P, 153, 644, para_lines[0], 11.6)
txt(P, 153, 662, para_lines[1], 11.6)
txt(P, 55, 708, titles[4], 12, style="bold")
txt(P, 367, 708, titles[5], 12, style="bold")
hline(P, 52, 350, 718.3, "#7F7F7F", 1.3)
hline(P, 363, 673, 718.3, "#7F7F7F", 1.3)

La = decor(8, 721, 352, 13)
txt(La, 90, 729.5, "(%)", 8.5, font=LAT, align="center")
Ra = decor(360, 721, 356, 9)
txt(Ra, 389, 725, "(%)", 5, font=LAT, align="center", style="bold")

Ld = decor(8, 877, 352, 68)
box(Ld, 62.7, 350, 885, 910.7)
hline(Ld, 137, 153, 898, PINK14, 2)
txt(Ld, 156.7, 898, c14_name, 8.5)
hline(Ld, 52, 350, 923.3, "#000000", 1)
txt(Ld, 52, 936, source, 10, color="#333333", style="italic")

Rd = decor(360, 882, 356, 63)
box(Rd, 371.7, 658.3, 886.7, 907.3)
Rd.quad(left=[423], right=[427.5], top=[895], bottom=[899.5], fill_color=BAR_DARK, line_color=None)
txt(Rd, 430, 897.3, c15_names[0], 5)
Rd.quad(left=[552], right=[556.5], top=[895], bottom=[899.5], fill_color=BAR_LIGHT, line_color=None)
txt(Rd, 559, 897.3, c15_names[1], 5)
hline(Rd, 363, 672, 925, "#000000", 1)
txt(Rd, 365, 936, source, 10, color="#333333", style="italic")

F = decor(8, 945, 708, 71)
hline(F, 58, 142, 979, "#C8283A", 1.6)
hline(F, 145, 683, 979, "#C8283A", 1.6)
txt(F, 59, 991, footer[0], 10.5)
txt(F, 383, 991, footer[1], 10.5, align="center")
txt(F, 682, 991, footer[2], 10.5, font=LAT, align="right")

# ====================== LAYOUT ======================
colLA = column(p10, Lb, p12, Lc)
colRA = column(p11, Rb, p13, Rc)
colLB = column(La, p14, Ld)
colRB = column(Ra, p15, Rd)
page = column(H, row(colLA, colRA), P, row(colLB, colRB), F)
root = row(Spacer(width=8, height=1016), column(Spacer(width=708, height=8), page))

open("out.html", "w").write(file_html(root, INLINE))
